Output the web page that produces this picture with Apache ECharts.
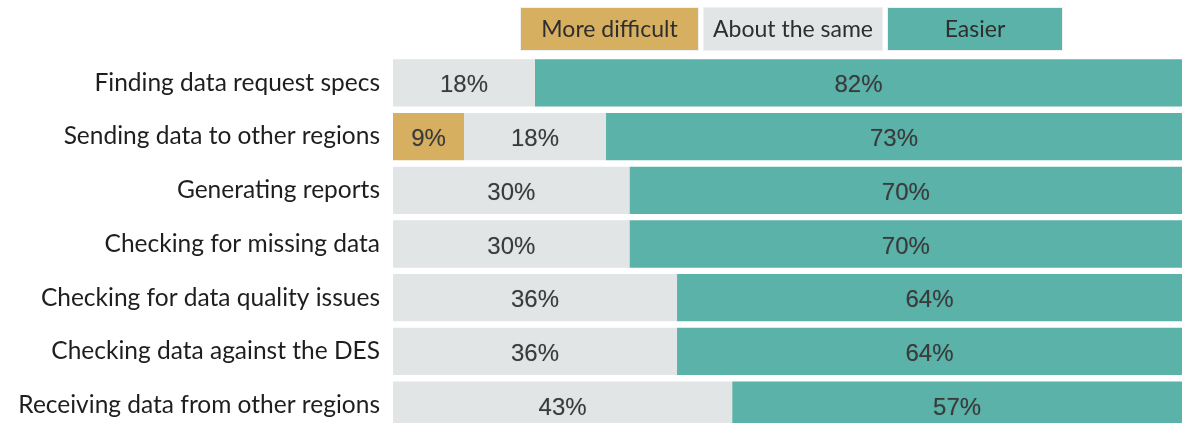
<!DOCTYPE html>
<html>
<head>
<meta charset="utf-8">
<script src="https://cdn.jsdelivr.net/npm/echarts@6/dist/echarts.min.js"></script>
<style>
html, body { margin: 0; padding: 0; background: #fff; overflow: hidden; }
#chart { width: 1182px; height: 432px; }
</style>
</head>
<body>
<div id="chart"></div>
<script>
var categories = [
    'Finding data request specs',
    'Sending data to other regions',
    'Generating reports',
    'Checking for missing data',
    'Checking for data quality issues',
    'Checking data against the DES',
    'Receiving data from other regions'
];
var seriesNames = ['More difficult', 'About the same', 'Easier'];
var moreDifficult = [null, 9, null, null, null, null, null];
var aboutSame = [18, 18, 30, 30, 36, 36, 43];
var easier = [82, 73, 70, 70, 64, 64, 57];

var colors = ['#d6b060', '#e1e5e6', '#5bb2a8'];
var catFont = 'Lato';

var myChart = echarts.init(document.getElementById('chart'));

// legend drawn as boxes with the name inside
var legendBoxes = [[520, 178], [703, 179], [887, 175]];
var legendGraphics = seriesNames.map(function (name, i) {
    return {
        type: 'group',
        left: legendBoxes[i][0],
        top: 7,
        children: [
            {
                type: 'rect',
                shape: { x: 0, y: 0, width: legendBoxes[i][1], height: 43 },
                style: { fill: colors[i], stroke: '#f0f0f0', lineWidth: 1 }
            },
            {
                type: 'text',
                x: legendBoxes[i][1] / 2,
                y: 22,
                style: {
                    text: name,
                    fill: '#2e2e2e',
                    font: '23px ' + catFont,
                    align: 'center',
                    verticalAlign: 'middle'
                }
            }
        ]
    };
});

var labelStyle = {
    show: true,
    position: 'inside',
    offset: [0, 3],
    color: '#3a3a3a',
    fontSize: 24,
    fontFamily: 'Liberation Sans',
    textShadowColor: 'rgba(0,0,40,0.25)',
    textShadowBlur: 1,
    formatter: function (p) { return p.value ? p.value + '%' : ''; }
};

var option = {
    animation: false,
    color: colors,
    graphic: legendGraphics,
    grid: {
        left: 393,
        right: 0,
        top: 56,
        bottom: 0
    },
    xAxis: {
        type: 'value',
        min: 0,
        max: 100,
        show: false
    },
    yAxis: {
        type: 'category',
        inverse: true,
        data: categories,
        axisLine: { show: false },
        axisTick: { show: false },
        axisLabel: {
            margin: 13,
            color: '#1e1e1e',
            fontSize: 24.5,
            fontFamily: catFont
        }
    },
    series: [
        {
            name: seriesNames[0],
            type: 'bar',
            stack: 'total',
            barCategoryGap: '12%',
            data: moreDifficult,
            label: labelStyle
        },
        {
            name: seriesNames[1],
            type: 'bar',
            stack: 'total',
            barCategoryGap: '12%',
            data: aboutSame,
            label: labelStyle
        },
        {
            name: seriesNames[2],
            type: 'bar',
            stack: 'total',
            barCategoryGap: '12%',
            data: easier,
            label: labelStyle
        }
    ]
};

myChart.setOption(option);
</script>
</body>
</html>
